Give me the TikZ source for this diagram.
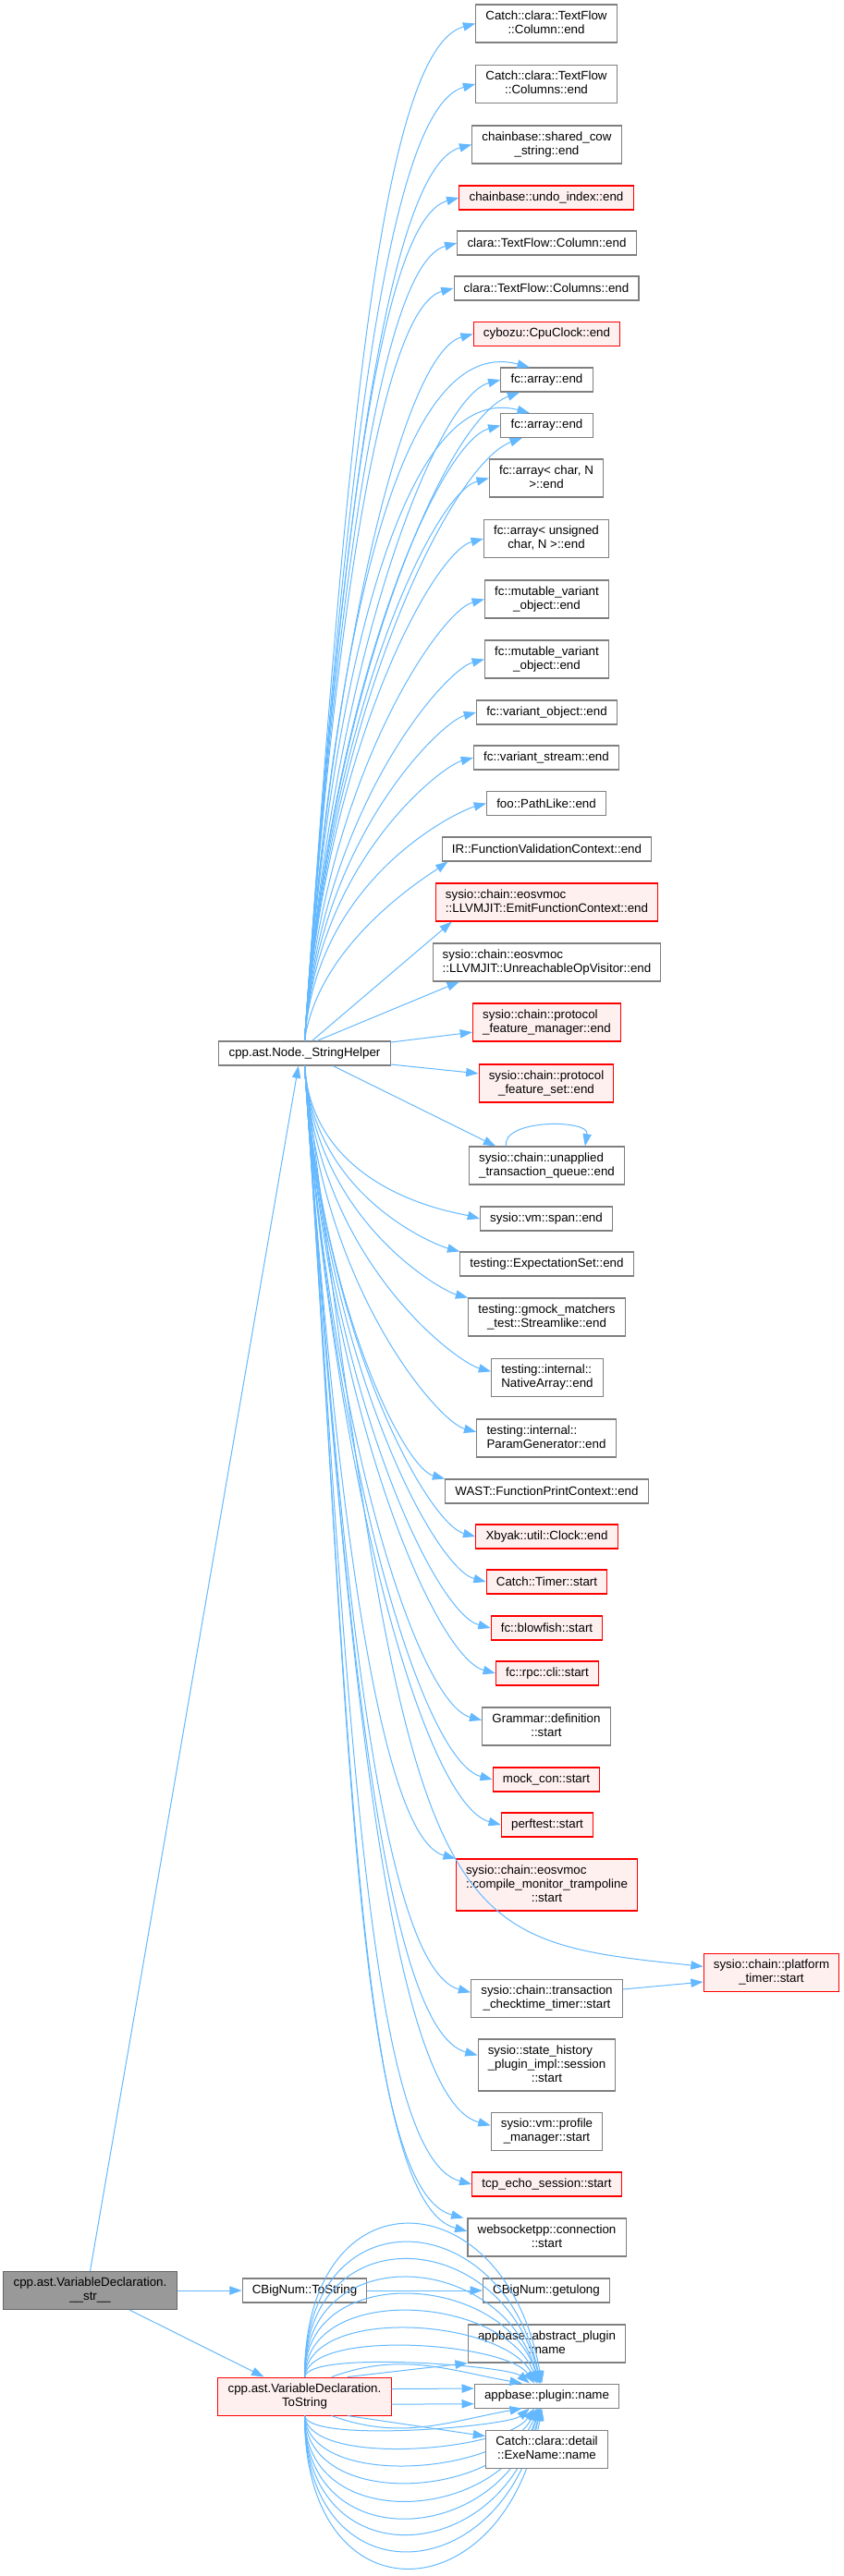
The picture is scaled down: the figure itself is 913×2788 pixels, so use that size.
\documentclass[tikz,border=0pt]{standalone}
\usepackage{fontspec}
\setmainfont{Liberation Sans}
\usetikzlibrary{arrows.meta}

\definecolor{edgeblue}{HTML}{63B8FF}
\definecolor{boxline}{HTML}{7F7F7F}
\definecolor{rootfill}{HTML}{999999}
\definecolor{hotfill}{HTML}{FFF0F0}

% doxygen style labels: upper lines flush left, last line centred
\newcommand{\twol}[2]{\begin{tabular}{@{}l@{}}#1\\\multicolumn{1}{@{}c@{}}{#2}\end{tabular}}
\newcommand{\threel}[3]{\begin{tabular}{@{}l@{}}#1\\#2\\\multicolumn{1}{@{}c@{}}{#3}\end{tabular}}

\tikzset{
  fn/.style={draw=boxline, fill=white, line width=0.8pt, rectangle, inner xsep=8pt, inner ysep=3pt,
    minimum height=19.5pt, font=\fontsize{10pt}{11.25pt}\selectfont},
  tall/.style={minimum height=30.75pt},
  taller/.style={minimum height=42pt},
  hot/.style={draw=red, fill=hotfill},
  rootfn/.style={draw=boxline!80!black, fill=rootfill},
  call/.style={draw=edgeblue, line width=0.75pt, -{Triangle[length=10pt,width=7pt]}},
  upcurve/.style={out=86, in=195, out looseness=1.4, in looseness=0.25},
  downcurve/.style={out=-86, in=165, out looseness=1.4, in looseness=0.25},
}

\begin{document}
\begin{tikzpicture}[x=0.75pt, y=-0.75pt]
    \useasboundingbox (0,0) rectangle (913,2788);

    % callers
    \node[fn, tall, rootfn] (root) at (97.5,2479) {\twol{cpp.ast.VariableDeclaration.}{\_\_str\_\_}};
    \node[fn] (helper) at (329.5,1140) {cpp.ast.Node.\_StringHelper};
    \node[fn] (bnts) at (329.5,2479) {CBigNum::ToString};
    \node[fn, tall, hot] (vdts) at (329.5,2593.5) {\twol{cpp.ast.VariableDeclaration.}{ToString}};

    % callees
    \node[fn, tall] (c1) at (591,25.5) {\twol{Catch::clara::TextFlow}{::Column::end}};
    \node[fn, tall] (c2) at (591,91) {\twol{Catch::clara::TextFlow}{::Columns::end}};
    \node[fn, tall] (c3) at (591.5,156.5) {\twol{chainbase::shared\_cow}{\_string::end}};
    \node[fn, hot] (c4) at (591,214) {chainbase::undo\_index::end};
    \node[fn] (c5) at (591.5,263) {clara::TextFlow::Column::end};
    \node[fn] (c6) at (591,312) {clara::TextFlow::Columns::end};
    \node[fn, hot] (c7) at (591.5,361.5) {cybozu::CpuClock::end};
    \node[fn] (fa1) at (591.5,411) {fc::array::end};
    \node[fn] (fa2) at (591.5,460.5) {fc::array::end};
    \node[fn, tall] (c10) at (591,517.5) {\twol{fc::array< char, N}{>::end}};
    \node[fn, tall] (c11) at (591,583) {\twol{fc::array< unsigned}{char, N >::end}};
    \node[fn, tall] (c12) at (591.5,648.5) {\twol{fc::mutable\_variant}{\_object::end}};
    \node[fn, tall] (c13) at (591.5,713.5) {\twol{fc::mutable\_variant}{\_object::end}};
    \node[fn] (c14) at (591.5,771) {fc::variant\_object::end};
    \node[fn] (c15) at (591,820) {fc::variant\_stream::end};
    \node[fn] (c16) at (591,869.5) {foo::PathLike::end};
    \node[fn] (c17) at (591.5,919) {IR::FunctionValidationContext::end};
    \node[fn, tall, hot] (c18) at (591.5,976.5) {\twol{sysio::chain::eosvmoc}{::LLVMJIT::EmitFunctionContext::end}};
    \node[fn, tall] (c19) at (591.5,1041.5) {\twol{sysio::chain::eosvmoc}{::LLVMJIT::UnreachableOpVisitor::end}};
    \node[fn, tall, hot] (c20) at (591.5,1106.5) {\twol{sysio::chain::protocol}{\_feature\_manager::end}};
    \node[fn, tall, hot] (c21) at (591,1172.5) {\twol{sysio::chain::protocol}{\_feature\_set::end}};
    \node[fn, tall] (c22) at (591.5,1261.5) {\twol{sysio::chain::unapplied}{\_transaction\_queue::end}};
    \node[fn] (c23) at (591,1319) {sysio::vm::span::end};
    \node[fn] (c24) at (591.5,1368) {testing::ExpectationSet::end};
    \node[fn, tall] (c25) at (591.5,1425.5) {\twol{testing::gmock\_matchers}{\_test::Streamlike::end}};
    \node[fn, tall] (c26) at (592,1491) {\twol{testing::internal::}{NativeArray::end}};
    \node[fn, tall] (c27) at (591,1556.5) {\twol{testing::internal::}{ParamGenerator::end}};
    \node[fn] (c28) at (591.5,1614) {WAST::FunctionPrintContext::end};
    \node[fn, hot] (c29) at (591.5,1663) {Xbyak::util::Clock::end};
    \node[fn, hot] (c30) at (591.5,1712) {Catch::Timer::start};
    \node[fn, hot] (c31) at (591.5,1762) {fc::blowfish::start};
    \node[fn, hot] (c32) at (592,1811) {fc::rpc::cli::start};
    \node[fn, tall] (c33) at (591,1868.5) {\twol{Grammar::definition}{::start}};
    \node[fn, hot] (c34) at (591,1926) {mock\_con::start};
    \node[fn, hot] (c35) at (592,1975) {perftest::start};
    \node[fn, taller, hot] (c36) at (591.5,2040) {\threel{sysio::chain::eosvmoc}{::compile\_monitor\_trampoline}{::start}};
    \node[fn, tall, hot] (ptimer) at (834.5,2135) {\twol{sysio::chain::platform}{\_timer::start}};
    \node[fn, tall] (c38) at (591.5,2163) {\twol{sysio::chain::transaction}{\_checktime\_timer::start}};
    \node[fn, taller] (c39) at (591.5,2235) {\threel{sysio::state\_history}{\_plugin\_impl::session}{::start}};
    \node[fn, tall] (c40) at (591.5,2307) {\twol{sysio::vm::profile}{\_manager::start}};
    \node[fn, hot] (c41) at (591.5,2364) {tcp\_echo\_session::start};
    \node[fn, tall] (c42) at (591.5,2421.5) {\twol{websocketpp::connection}{::start}};
    \node[fn] (getul) at (591,2479) {CBigNum::getulong};
    \node[fn, tall] (absname) at (591.5,2536.5) {\twol{appbase::abstract\_plugin}{::name}};
    \node[fn] (plgname) at (591.5,2593) {appbase::plugin::name};

    % __str__
    \draw[call] (root.north) -- ([xshift=-5pt]helper.south);
    \draw[call] (root) -- (bnts);
    \draw[call] ([xshift=32pt]root.south) -- ([xshift=-33pt]vdts.north);

    % _StringHelper, upwards
    \draw[call] (helper.north) to[upcurve] (c1.west);
    \draw[call] (helper.north) to[upcurve] (c2.west);
    \draw[call] (helper.north) to[upcurve] (c3.west);
    \draw[call] (helper.north) to[upcurve] (c4.west);
    \draw[call] (helper.north) to[upcurve] (c5.west);
    \draw[call] (helper.north) to[upcurve] (c6.west);
    \draw[call] (helper.north) to[upcurve] (c7.west);
    \draw[call] (helper.north) to[out=86, in=165, out looseness=1.4, in looseness=0.5] ([xshift=-14pt]fa1.north);
    \draw[call] (helper.north) to[upcurve] (fa1.west);
    \draw[call] (helper.north) to[out=86, in=200, out looseness=1.3, in looseness=0.3] ([xshift=-22pt]fa1.south);
    \draw[call] (helper.north) to[out=86, in=165, out looseness=1.4, in looseness=0.5] ([xshift=-14pt]fa2.north);
    \draw[call] (helper.north) to[upcurve] (fa2.west);
    \draw[call] (helper.north) to[out=86, in=200, out looseness=1.3, in looseness=0.3] ([xshift=-20pt]fa2.south);
    \draw[call] (helper.north) to[upcurve] (c10.west);
    \draw[call] (helper.north) to[upcurve] (c11.west);
    \draw[call] (helper.north) to[upcurve] (c12.west);
    \draw[call] (helper.north) to[upcurve] (c13.west);
    \draw[call] (helper.north) to[upcurve] (c14.west);
    \draw[call] (helper.north) to[upcurve] (c15.west);
    \draw[call] (helper.north) to[upcurve] (c16.west);
    \draw[call] (helper.north) to[out=82, in=215, out looseness=1.1, in looseness=0.3] ([xshift=5pt]c17.south west);
    \draw[call] ([xshift=6pt]helper.north) -- ([xshift=13.5pt]c18.south west);
    \draw[call] ([xshift=10pt]helper.north) -- ([xshift=22pt]c19.south west);
    \draw[call] ([yshift=9pt]helper.east) -- ([yshift=-8pt]c20.west);
    \draw[call] ([yshift=-9pt]helper.east) -- ([yshift=8pt]c21.west);

    % _StringHelper, downwards
    \draw[call] ([xshift=23pt]helper.south) -- ([xshift=22pt]c22.north west);
    \draw[call] ([xshift=-33pt]c22.north) to[out=100, in=80, looseness=0.9] ([xshift=31pt]c22.north);
    \draw[call] (helper.south) to[downcurve] (c23.west);
    \draw[call] (helper.south) to[downcurve] (c24.north west);
    \draw[call] (helper.south) to[downcurve] (c25.north west);
    \draw[call] (helper.south) to[downcurve] ([yshift=5pt]c26.west);
    \draw[call] (helper.south) to[downcurve] ([yshift=5pt]c27.west);
    \draw[call] (helper.south) to[downcurve] (c28.north west);
    \draw[call] (helper.south) to[downcurve] (c29.west);
    \draw[call] (helper.south) to[downcurve] (c30.west);
    \draw[call] (helper.south) to[downcurve] (c31.west);
    \draw[call] (helper.south) to[downcurve] (c32.west);
    \draw[call] (helper.south) to[downcurve] ([yshift=5pt]c33.west);
    \draw[call] (helper.south) to[downcurve] (c34.west);
    \draw[call] (helper.south) to[downcurve] (c35.west);
    \draw[call] (helper.south) to[downcurve] (c36.north west);
    \draw[call] (helper.south) .. controls (445,2095) and (470,2098) .. ([yshift=5pt]ptimer.west);
    \draw[call] (helper.south) to[downcurve] ([yshift=5pt]c38.west);
    \draw[call] (helper.south) to[downcurve] ([yshift=8pt]c39.west);
    \draw[call] (helper.south) to[downcurve] ([yshift=5pt]c40.west);
    \draw[call] (helper.south) to[downcurve] (c41.west);
    \draw[call] (helper.south) to[downcurve] ([xshift=-3pt]c42.north west);
    \draw[call] (helper.south) to[downcurve] ([yshift=5pt]c42.west);
    \draw[call] ([yshift=7.5pt]c38.east) -- ([yshift=-7.5pt]ptimer.west);

    % CBigNum::ToString
    \draw[call] (bnts) -- (getul);

    % VariableDeclaration.ToString
    \draw[call] (vdts.north) to[out=90, in=100, looseness=2.25] ([xshift=-4pt]plgname.north);
    \draw[call] (vdts.north) to[out=90, in=102, looseness=2.0] ([xshift=-5pt]plgname.north);
    \draw[call] (vdts.north) to[out=90, in=104, looseness=1.76] ([xshift=-5pt]plgname.north);
    \draw[call] (vdts.north) to[out=90, in=106, looseness=1.51] ([xshift=-6pt]plgname.north);
    \draw[call] (vdts.north) to[out=90, in=108, looseness=1.27] ([xshift=-6pt]plgname.north);
    \draw[call] (vdts.north) to[out=88, in=112, looseness=1.04] ([xshift=-7pt]plgname.north);
    \draw[call] (vdts.north) to[out=86, in=118, looseness=0.8] ([xshift=-8pt]plgname.north);
    \draw[call] (vdts.north) to[out=84, in=125, looseness=0.55] ([xshift=-10pt]plgname.north);
    \draw[call] (vdts.north) to[out=80, in=140, looseness=0.31] ([xshift=-14pt]plgname.north);
    \draw[call] ([xshift=22pt]vdts.north) to[out=20, in=170] ([xshift=-20pt]plgname.north);
    \draw[call] ([xshift=35pt]vdts.north) -- (absname.south west);
    \draw[call] ([yshift=6pt]vdts.east) -- ([yshift=6pt]plgname.west);
    \draw[call] ([yshift=-6.5pt]vdts.east) -- ([yshift=-6.5pt]plgname.west);
    \draw[call] ([xshift=22pt]vdts.south) to[out=-20, in=-170] ([xshift=-20pt]plgname.south);
    \draw[call] (vdts.south) to[out=-80, in=-140, looseness=0.32] ([xshift=-14pt]plgname.south);
    \draw[call] (vdts.south) to[out=-84, in=-125, looseness=0.58] ([xshift=-10pt]plgname.south);
    \draw[call] (vdts.south) to[out=-86, in=-118, looseness=0.82] ([xshift=-8pt]plgname.south);
    \draw[call] (vdts.south) to[out=-88, in=-112, looseness=1.06] ([xshift=-7pt]plgname.south);
    \draw[call] (vdts.south) to[out=-90, in=-108, looseness=1.31] ([xshift=-6pt]plgname.south);
    \draw[call] (vdts.south) to[out=-90, in=-106, looseness=1.56] ([xshift=-6pt]plgname.south);
    \draw[call] (vdts.south) to[out=-90, in=-104, looseness=1.78] ([xshift=-5pt]plgname.south);
    \draw[call] (vdts.south) to[out=-90, in=-102, looseness=2.02] ([xshift=-5pt]plgname.south);
    \draw[call] (vdts.south) to[out=-90, in=-100, looseness=2.25] ([xshift=-4pt]plgname.south);

    % drawn last, it covers the arcs behind it
    \node[fn, tall] (exename) at (591.5,2651) {\twol{Catch::clara::detail}{::ExeName::name}};
    \draw[call] ([xshift=35pt]vdts.south) -- ([yshift=-5pt]exename.north west);
\end{tikzpicture}
\end{document}
